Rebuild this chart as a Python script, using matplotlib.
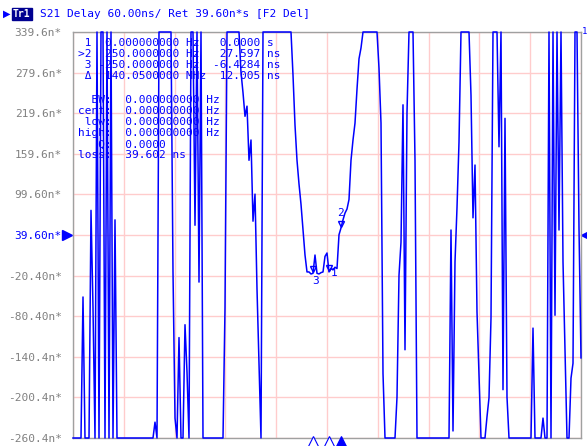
import numpy as np
import matplotlib
matplotlib.use("Agg")
import matplotlib.pyplot as plt
import matplotlib.transforms as mtransforms

# ---------------- data ----------------
T = 400.0    # over range (top)
B = -300.0   # under range (bottom)

delay_ns = (
    [B] * 5 + [-52] + [B] * 3 + [76, -68, B, T, B, T, T, B, T, B, T, B, 62, B]
    + [B] * 18 + [-237, B, T] + [T] * 6
    + [-15, -231, B, -112, B, B, -93, -163, B, T, T, 54, T, -30, T]
    + [B] * 11 + [-68] + [T] * 7
    + [280, 250, 215, 230, 150, 180, 60, 100, -40, -150, B]
    + [T] * 15
    + [276, 202, 150, 115, 85, 48, 10, -15, -15, -18, -17, 10, -17, -18, -16,
       -15, 8, 13, -15, -10, -12, -8, -10, 40, 50, 62, 72, 78, 92, 150, 180,
       205, 255, 300, 316]
    + [T] * 8 + [286, 205, -165] + [B] * 6
    + [-200, -20, 29, 232, -130, 221] + [T] * 3 + [150] + [B] * 17
    + [47, -250, 0, 80, 177] + [T] * 5
    + [246, 65, 143, -74, -167] + [B] * 3 + [-229, -201, -83]
    + [T] * 3 + [170, T, -189, 212, -200] + [B] * 12 + [-98] + [B] * 4
    + [-231, B, B, T, B, T, -79, T, 47, T, 0, -130, B, B, -172, -150, T, T, 50, -142]
)

y_ticks = [339.6, 279.6, 219.6, 159.6, 99.6, 39.6, -20.4, -80.4, -140.4, -200.4, -260.4]
y_labels = ["339.6n*", "279.6n*", "219.6n*", "159.6n*", "99.60n*", "39.60n*",
            "-20.40n*", "-80.40n*", "-140.4n*", "-200.4n*", "-260.4n*"]
ref_level = 39.6

marker_idx = {"1": 128, "2": 134, "3": 120}

table_rows = [
    " 1  0.000000000 Hz   0.0000 s",
    ">2  250.0000000 Hz   27.597 ns",
    " 3 -250.0000000 Hz  -6.4284 ns",
    " \u0394  140.0500000 MHz  12.005 ns",
]
stat_rows = [
    "  BW:  0.000000000 Hz",
    "cent:  0.000000000 Hz",
    " low:  0.000000000 Hz",
    "high:  0.000000000 Hz",
    "   Q:  0.0000",
    "loss:  39.602 ns",
]
header = "S21 Delay 60.00ns/ Ret 39.60n*s [F2 Del]"

# ---------------- figure ----------------
W, H = 587, 446
fig = plt.figure(figsize=(W / 100, H / 100), dpi=100)
fig.patch.set_facecolor("white")
L, R, TOP, BOT = 73, 581, 32, 438
ax = fig.add_axes([L / W, 1 - BOT / H, (R - L) / W, (BOT - TOP) / H])
ax.set_facecolor("white")

mono = "DejaVu Sans Mono"
blue = "#0000ff"
fs = 8

y = np.clip(np.array(delay_ns, dtype=float), y_ticks[-1], y_ticks[0])
x = np.arange(len(y))
n = len(y) - 1
ax.set_xlim(0, n)
ax.set_ylim(y_ticks[-1], y_ticks[0])

ax.set_xticks(np.linspace(0, n, 11))
ax.set_yticks(y_ticks)
ax.grid(True, color="#ffcccc", lw=1.0, zorder=0)
ax.set_axisbelow(True)
ax.tick_params(axis="both", length=0)
ax.set_xticklabels([])
ax.set_yticklabels(y_labels, fontfamily=mono, fontsize=fs, color="#808080")
ax.tick_params(axis="y", pad=8)
for lab in ax.get_yticklabels():
    if lab.get_text() == "39.60n*":
        lab.set_color(blue)

for s in ax.spines.values():
    s.set_color("#a0a0a0")
    s.set_linewidth(1.0)

ax.plot(x, y, color=blue, lw=1.1, zorder=3, clip_on=False)

# reference level arrows
btrans = mtransforms.blended_transform_factory(ax.transAxes, ax.transData)
ax.plot([-0.011], [ref_level], marker=">", color=blue, ms=7, transform=btrans, clip_on=False)
ax.plot([1.010], [ref_level], marker="<", color=blue, ms=7, transform=btrans, clip_on=False)
fig.text(582 / W, 1 - 31 / H, "1", color=blue, fontsize=6.5,
         fontfamily=mono, ha="left", va="center")

# markers on trace
for name, i in marker_idx.items():
    yi = y[i]
    ax.plot([i], [yi + 6], marker="v", ms=5, mfc="none", mec=blue, mew=1.0, zorder=4)
    if name == "2":
        ax.text(i, yi + 14, name, color=blue, fontsize=fs, fontfamily=mono,
                ha="center", va="bottom")
    elif name == "3":
        ax.text(i + 1.5, yi - 4, name, color=blue, fontsize=fs, fontfamily=mono,
                ha="center", va="top")
    else:
        ax.text(i + 1, yi - 1, name, color=blue, fontsize=fs, fontfamily=mono,
                ha="left", va="center")

# marker position indicators below axis
xtrans = mtransforms.blended_transform_factory(ax.transData, ax.transAxes)
for name, i in marker_idx.items():
    filled = name == "2"
    ax.plot([i], [-0.013], marker="^", ms=10, transform=xtrans, clip_on=False,
            mfc=blue if filled else "white", mec=blue, mew=0.8, zorder=5)

# marker table
x0 = 78 / W
for k, row in enumerate(table_rows):
    fig.text(x0, 1 - (43 + 11 * k) / H, row, fontfamily=mono, fontsize=fs,
             color=blue, ha="left", va="center")
for k, row in enumerate(stat_rows):
    fig.text(x0, 1 - (100 + 11.1 * k) / H, row, fontfamily=mono, fontsize=fs,
             color=blue, ha="left", va="center")

# header
fig.text(3 / W, 1 - 14 / H, "\u25B6", fontsize=7, color=blue, ha="left", va="center",
         fontfamily="DejaVu Sans")
fig.text(13 / W, 1 - 14 / H, "Tr1", fontsize=7, color="white", ha="left", va="center",
         fontfamily=mono, fontweight="bold",
         bbox=dict(boxstyle="square,pad=0.1", fc="#000090", ec="#000090"))
fig.text(40 / W, 1 - 14 / H, header, fontsize=fs, color=blue, ha="left", va="center",
         fontfamily=mono)

fig.savefig("out.png", dpi=100, facecolor="white")
